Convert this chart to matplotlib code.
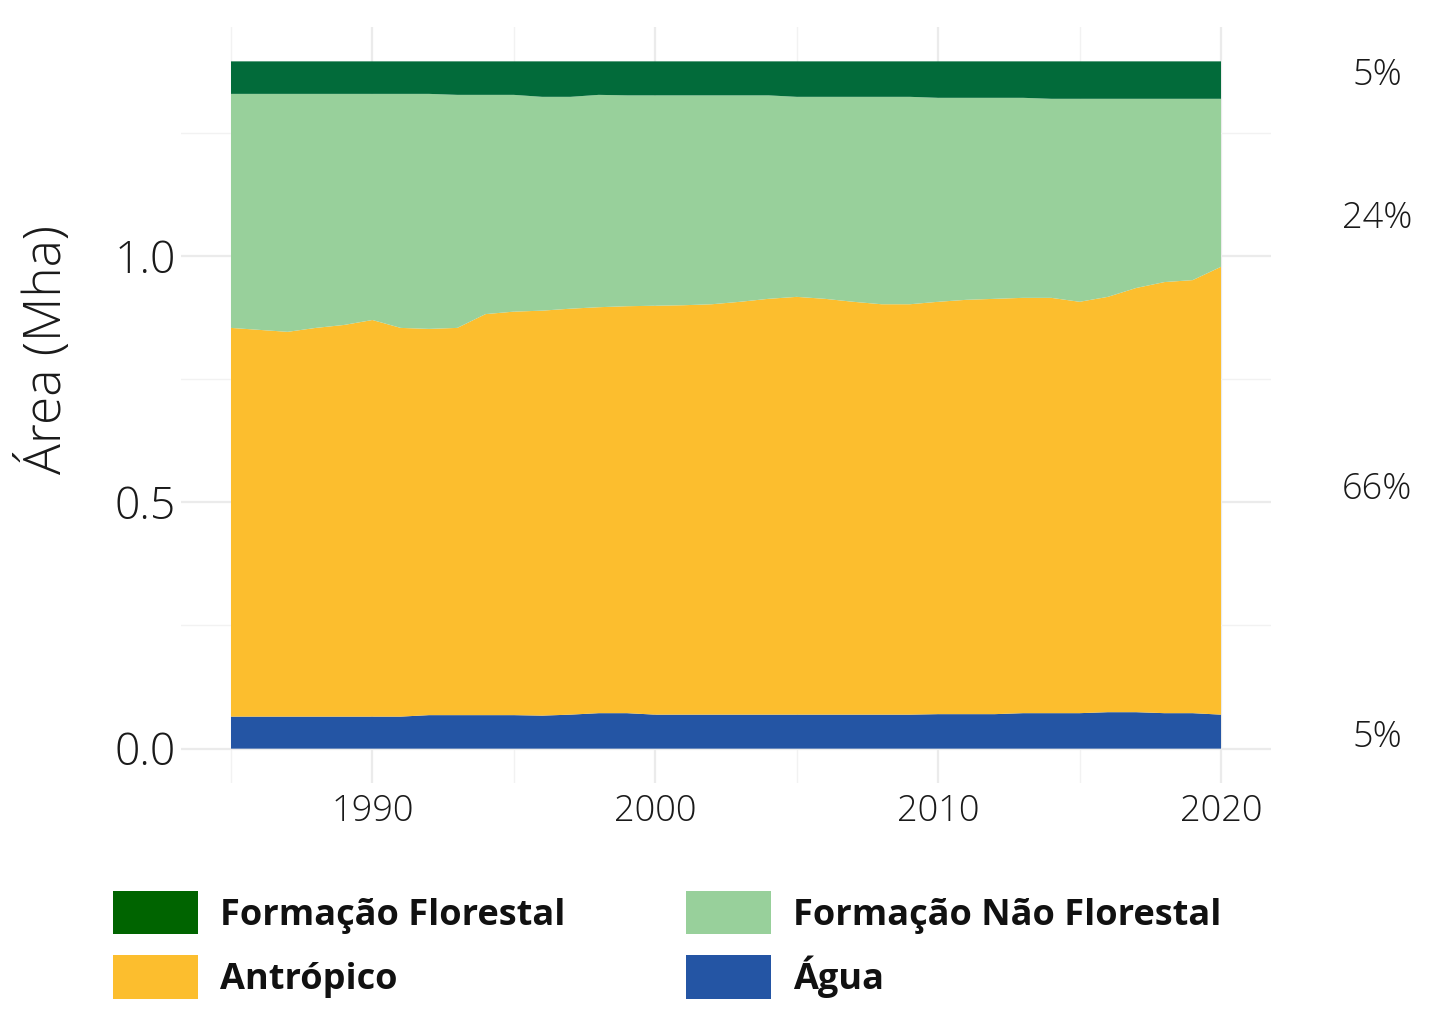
import matplotlib
matplotlib.use("Agg")
import matplotlib.pyplot as plt
import matplotlib.transforms as mtransforms
from matplotlib.patches import Patch
import numpy as np

# ---------------- data ----------------
years = list(range(1985, 2021))

agua = [0.065, 0.065, 0.065, 0.065, 0.065, 0.065, 0.065, 0.068, 0.068, 0.068,
        0.068, 0.067, 0.069, 0.072, 0.072, 0.069, 0.069, 0.069, 0.069, 0.069,
        0.069, 0.069, 0.069, 0.069, 0.069, 0.070, 0.070, 0.070, 0.072, 0.072,
        0.072, 0.074, 0.074, 0.072, 0.072, 0.069]

antropico = [0.789, 0.785, 0.781, 0.789, 0.795, 0.805, 0.789, 0.784, 0.786, 0.814,
             0.819, 0.822, 0.824, 0.824, 0.826, 0.830, 0.831, 0.833, 0.838, 0.844,
             0.848, 0.844, 0.838, 0.833, 0.833, 0.837, 0.841, 0.843, 0.843, 0.843,
             0.835, 0.843, 0.861, 0.875, 0.879, 0.909]

nao_florestal = [0.475, 0.479, 0.483, 0.475, 0.469, 0.459, 0.475, 0.477, 0.473, 0.445,
                 0.440, 0.434, 0.430, 0.431, 0.428, 0.427, 0.426, 0.424, 0.419, 0.413,
                 0.406, 0.410, 0.416, 0.421, 0.421, 0.414, 0.410, 0.408, 0.406, 0.404,
                 0.412, 0.402, 0.384, 0.372, 0.368, 0.341]

florestal = [0.066, 0.066, 0.066, 0.066, 0.066, 0.066, 0.066, 0.066, 0.068, 0.068,
             0.068, 0.072, 0.072, 0.068, 0.069, 0.069, 0.069, 0.069, 0.069, 0.069,
             0.072, 0.072, 0.072, 0.072, 0.072, 0.074, 0.074, 0.074, 0.074, 0.076,
             0.076, 0.076, 0.076, 0.076, 0.076, 0.076]

classes = ["Formação Florestal", "Formação Não Florestal", "Antrópico", "Água"]
pct_labels = ["5%", "24%", "66%", "5%"]

# ---------------- style ----------------
fill_colors = {"Formação Florestal": "#026B3A", "Formação Não Florestal": "#98D09B",
               "Antrópico": "#FCBE2E", "Água": "#2455A4"}
legend_colors = {"Formação Florestal": "#006400", "Formação Não Florestal": "#98D09B",
                 "Antrópico": "#FCBE2E", "Água": "#2455A4"}

FONT = ["Open Sans", "DejaVu Sans"]
plt.rcParams["font.family"] = FONT
TXT = "#1A1A1A"

W, H = 1441, 1026
fig = plt.figure(figsize=(W / 100, H / 100), dpi=100)
ax = fig.add_axes([181.5 / W, 1 - 783 / H, (1270.5 - 181.5) / W, (783 - 27) / H])

x = np.array(years)
ax.stackplot(x, agua, antropico, nao_florestal, florestal,
             colors=[fill_colors["Água"], fill_colors["Antrópico"],
                     fill_colors["Formação Não Florestal"], fill_colors["Formação Florestal"]],
             linewidth=0, zorder=2)

total = np.array(agua) + np.array(antropico) + np.array(nao_florestal) + np.array(florestal)
xr = x.max() - x.min()
ax.set_xlim(x.min() - 0.05 * xr, x.max() + 0.05 * xr)
ymax = total.max()
ax.set_ylim(-0.05 * ymax, ymax * 1.05)

ax.set_xticks([1990, 2000, 2010, 2020])
ax.set_xticks([1985, 1995, 2005, 2015], minor=True)
ax.set_yticks([0.0, 0.5, 1.0])
ax.set_yticks([0.25, 0.75, 1.25], minor=True)
ax.set_yticklabels(["0.0", "0.5", "1.0"])
ax.grid(True, which="major", color="#EBEBEB", linewidth=1.6, zorder=0)
ax.grid(True, which="minor", color="#F2F2F2", linewidth=1.0, zorder=0)
ax.set_axisbelow(True)
for s in ax.spines.values():
    s.set_visible(False)
ax.tick_params(which="both", length=0)
ax.tick_params(axis="x", pad=7, labelsize=26, labelcolor=TXT)
ax.tick_params(axis="y", pad=4, labelsize=32, labelcolor=TXT)
for lab in ax.get_xticklabels() + ax.get_yticklabels():
    lab.set_fontweight("light")

fig.text(45 / W, 1 - 350 / H, "Área (Mha)", rotation=90, ha="center", va="center",
         fontsize=37, fontweight="light", color=TXT)

# percent labels on the right
label_y = [1.367, 1.077, 0.525, 0.022]
trans = mtransforms.blended_transform_factory(fig.transFigure, ax.transData)
for lab, yy in zip(pct_labels, label_y):
    ax.text(1377 / W, yy, lab, transform=trans, ha="center", va="center",
            fontsize=26, fontweight="light", color=TXT, clip_on=False)

# legend
handles = [Patch(facecolor=legend_colors[c], edgecolor="none", label=c)
           for c in ["Formação Florestal", "Antrópico", "Formação Não Florestal", "Água"]]
leg = fig.legend(handles=handles, ncol=2, loc="upper left",
                 bbox_to_anchor=(84 / W, 1 - 862 / H), frameon=False,
                 prop={"family": "Open Sans", "weight": "bold", "size": 26},
                 handlelength=2.35, handleheight=1.48, handletextpad=0.61,
                 columnspacing=3.35, labelspacing=0.58, borderpad=0.3)
for t in leg.get_texts():
    t.set_color("#111111")

fig.savefig("out.png", dpi=100, facecolor="white")
